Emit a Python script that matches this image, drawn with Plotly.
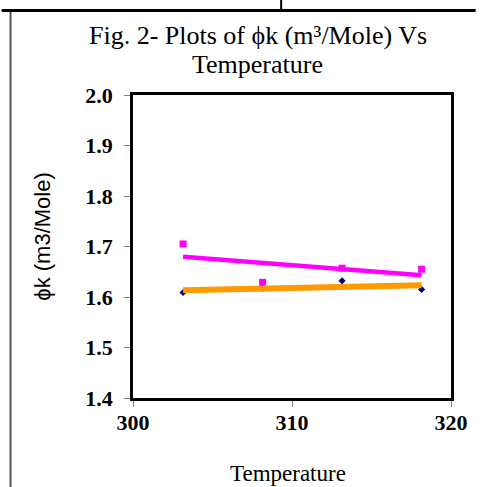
import numpy as np
import plotly.graph_objects as go

# ---- data ----
temperature = [303.15, 308.15, 313.15, 318.15]
phik_pink = [1.705, 1.629, 1.657, 1.655]
phik_navy = [1.609, 1.617, 1.632, 1.615]
x_ticks = [300, 310, 320]
y_ticks = [1.4, 1.5, 1.6, 1.7, 1.8, 1.9, 2.0]
y_tick_labels = ["1.4", "1.5", "1.6", "1.7", "1.8", "1.9", "2.0"]

W, H = 480, 487
L, R, T, B = 133, 455, 95, 398


def px(xp, yp):
    return (xp - L) / (R - L), (B - yp) / (B - T)


def trend(x, y):
    m, c = np.polyfit(x, y, 1)
    xs = np.array([min(x), max(x)])
    return xs, m * xs + c


fig = go.Figure()
fig.add_trace(go.Scatter(x=temperature, y=phik_pink, mode="markers",
                         marker=dict(symbol="square", size=7, color="#FF00FF"),
                         showlegend=False))
fig.add_trace(go.Scatter(x=temperature, y=phik_navy, mode="markers",
                         marker=dict(symbol="diamond", size=5.5, color="#000080"),
                         showlegend=False))
tx, ty = trend(temperature, phik_pink)
fig.add_trace(go.Scatter(x=tx, y=ty, mode="lines",
                         line=dict(color="#FF00FF", width=4.5), showlegend=False))
tx, ty = trend(temperature, phik_navy)
fig.add_trace(go.Scatter(x=tx, y=ty, mode="lines",
                         line=dict(color="#FF9900", width=6), showlegend=False))

tickfont = dict(family="Liberation Serif", size=22, color="black", weight="bold")
fig.update_xaxes(range=[300, 320], tickvals=x_ticks, ticktext=[str(v) for v in x_ticks],
                 showgrid=False, zeroline=False, showline=True, linecolor="black",
                 linewidth=2.5, mirror=True, ticks="outside", ticklen=6,
                 tickcolor="#808080", tickwidth=1, tickfont=tickfont,
                 ticklabelstandoff=-3)
fig.update_yaxes(range=[1.4, 2.0], tickvals=y_ticks, ticktext=y_tick_labels,
                 showgrid=False, zeroline=False, showline=True, linecolor="black",
                 linewidth=2.5, mirror=True, ticks="outside", ticklen=6,
                 tickcolor="#808080", tickwidth=1, tickfont=tickfont,
                 ticklabelstandoff=7)

serif = "Liberation Serif"
annotations = []
x1, y1 = px(259.5, 35)
annotations.append(dict(text="Fig. 2- Plots of ϕk (m³/Mole) Vs", x=x1, y=y1,
                        xref="paper", yref="paper", xanchor="center", yanchor="middle",
                        showarrow=False, font=dict(family=serif, size=26, color="black")))
x1, y1 = px(259, 65)
annotations.append(dict(text="Temperature", x=x1, y=y1,
                        xref="paper", yref="paper", xanchor="center", yanchor="middle",
                        showarrow=False, font=dict(family=serif, size=26, color="black")))
x1, y1 = px(290, 473)
annotations.append(dict(text="Temperature", x=x1, y=y1,
                        xref="paper", yref="paper", xanchor="center", yanchor="middle",
                        showarrow=False, font=dict(family=serif, size=23, color="black")))
x1, y1 = px(41, 236.5)
annotations.append(dict(text="ϕk (m3/Mole)", x=x1, y=y1, textangle=-90,
                        xref="paper", yref="paper", xanchor="center", yanchor="middle",
                        showarrow=False, font=dict(family="Liberation Sans", size=22, color="black")))

shapes = []
def line(xa, ya, xb, yb, w, c):
    p0 = px(xa, ya)
    p1 = px(xb, yb)
    shapes.append(dict(type="line", xref="paper", yref="paper",
                       x0=p0[0], y0=p0[1], x1=p1[0], y1=p1[1],
                       line=dict(color=c, width=w)))

line(0, 10.5, 480, 10.5, 3, "black")
line(283, 0, 283, 9, 2, "black")
line(9, 12, 9, 487, 2, "#555555")

fig.update_layout(width=W, height=H, margin=dict(l=L, r=W - R, t=T, b=H - B),
                  paper_bgcolor="white", plot_bgcolor="white",
                  annotations=annotations, shapes=shapes)

fig.write_html("out.html")
